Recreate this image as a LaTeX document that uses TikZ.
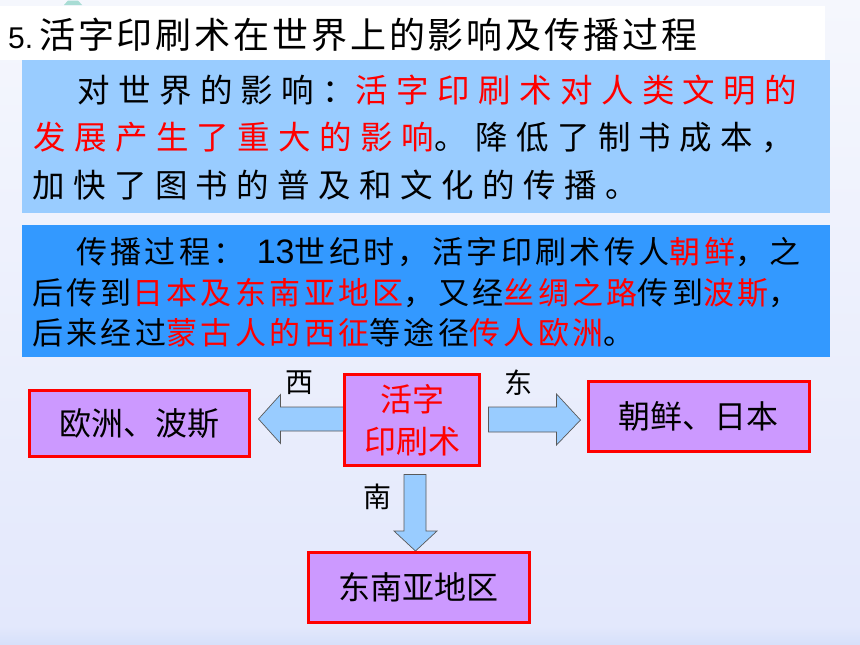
\documentclass[tikz,border=0pt]{standalone}
\usepackage{fontspec}
\usetikzlibrary{calc}
\newfontfamily\cjk{Noto Sans CJK SC}
\newfontfamily\cjkT[LetterSpace=8]{Noto Sans CJK SC}
\newfontfamily\cjkA[LetterSpace=26]{Noto Sans CJK SC}
\newfontfamily\cjkB[LetterSpace=11]{Noto Sans CJK SC}
\newfontfamily\latn{Liberation Sans}
\definecolor{boxone}{HTML}{99CCFF}
\definecolor{boxtwo}{HTML}{3399FF}
\definecolor{violetbox}{HTML}{CC99FF}
\definecolor{hired}{HTML}{FF0000}
\definecolor{bgtop}{HTML}{F5F7FD}
\definecolor{bgbot}{HTML}{E3E8FC}
\definecolor{bgstrip}{HTML}{D6E0FA}
\definecolor{teal1}{HTML}{A8DCD4}
\pgfdeclarelayer{bg}
\pgfdeclarelayer{arrows}
\pgfsetlayers{bg,arrows,main}
\tikzset{
  dbox/.style={draw=hired, line width=3pt, fill=violetbox, inner sep=0pt,
    font=\cjk\fontsize{32}{42}\selectfont, align=center},
  dirlabel/.style={inner sep=0pt, font=\cjk\fontsize{28}{32}\selectfont},
  lineA/.style={anchor=west, inner sep=0pt, font=\cjkA\fontsize{32.5}{38}\selectfont},
  lineB/.style={anchor=west, inner sep=0pt, font=\cjkB\fontsize{31}{36}\selectfont},
  blockarrow/.style={fill=boxone, draw=black!65, line width=0.7pt},
}
\begin{document}
\begin{tikzpicture}[x=1pt,y=-1pt]
\useasboundingbox (0,0) rectangle (860,645);
\begin{pgfonlayer}{bg}
\fill[top color=bgtop, bottom color=bgbot, draw=none] (0,0) rectangle (860,627);
\fill[top color=bgbot, bottom color=bgstrip, draw=none] (0,626) rectangle (860,645);
\fill[white] (0,6) rectangle (825,60);
\fill[teal1] (64,5) -- (68,0.5) -- (78,0.5) -- (82,5) -- cycle;
\fill[boxone] (22,60) rectangle (830,213);
\fill[boxtwo] (22,225) rectangle (830,357);
\end{pgfonlayer}

% title
\node[anchor=west, inner sep=0pt] (title) at (8,35)
  {\latn\fontsize{30}{36}\selectfont 5.\hspace{6pt}\cjkT\fontsize{36}{40}\selectfont 活字印刷术在世界上的影响及传播过程};

% box one
\node[lineA] (a1) at (77,90) {对世界的影响：\textcolor{hired}{活字印刷术对人类文明的}};
\node[lineA] (a2) at (33,138) {\textcolor{hired}{发展产生了重大的影响}。降低了制书成本，};
\node[lineA] (a3) at (32,185) {加快了图书的普及和文化的传播。};

% box two
\node[lineB] (b1) at (76,252) {传播过程：\hspace{12pt}{\latn\fontsize{34}{36}\selectfont 13}世纪时，活字印刷术传人\textcolor{hired}{朝鲜}，之};
\node[lineB] (b2) at (32,293) {后传到\textcolor{hired}{日本及东南亚地区}，又经\textcolor{hired}{丝绸之路}传到\textcolor{hired}{波斯}，};
\node[lineB] (b3) at (32,333) {后来经过\textcolor{hired}{蒙古人的西征}等途径\textcolor{hired}{传人欧洲}。};

% diagram boxes
\node[dbox, minimum width=220pt, minimum height=66pt] (l) at (139.5,423.5) {欧洲、波斯};
\node[dbox, minimum width=135pt, minimum height=91pt, text=hired] (c) at (412,420) {活字\\印刷术};
\node[dbox, minimum width=221pt, minimum height=70pt] (r) at (698.5,416) {朝鲜、日本};
\node[dbox, minimum width=221pt, minimum height=70pt] (s) at (418.5,587.5) {东南亚地区};

% direction labels
\node[dirlabel] (w) at (299,383) {西};
\node[dirlabel] (e) at (518,383) {东};
\node[dirlabel] (so) at (377,497) {南};

% arrows
\coordinate (lt) at ($(l.east |- c.west)+(7.5,-1)$);
\coordinate (rt) at ($(r.west |- c.east)+(-6,0)$);
\coordinate (dt) at ($(c.south |- s.north)+(3.5,0)$);
\begin{pgfonlayer}{arrows}
\draw[blockarrow] ($(c.west)+(1,-13)$) -- ($(lt)+(22,-12)$) -- ($(lt)+(22,-24.5)$) -- (lt)
  -- ($(lt)+(22,24.5)$) -- ($(lt)+(22,12)$) -- ($(c.west)+(1,11)$) -- cycle;
\draw[blockarrow] ($(c.east)+(7.5,-13)$) -- ($(rt)+(-24,-13)$) -- ($(rt)+(-24,-26)$) -- (rt)
  -- ($(rt)+(-24,25)$) -- ($(rt)+(-24,12)$) -- ($(c.east)+(7.5,12)$) -- cycle;
\draw[blockarrow] ($(c.south)+(-8,7.5)$) -- ($(dt |- c.south)+(-11.5,7.5)$) -- ($(dt)+(-11.5,-20)$)
  -- ($(dt)+(-21.5,-20)$) -- (dt) -- ($(dt)+(21.5,-20)$) -- ($(dt)+(10.5,-20)$)
  -- ($(dt |- c.south)+(10.5,7.5)$) -- cycle;
\end{pgfonlayer}
\end{tikzpicture}
\end{document}
